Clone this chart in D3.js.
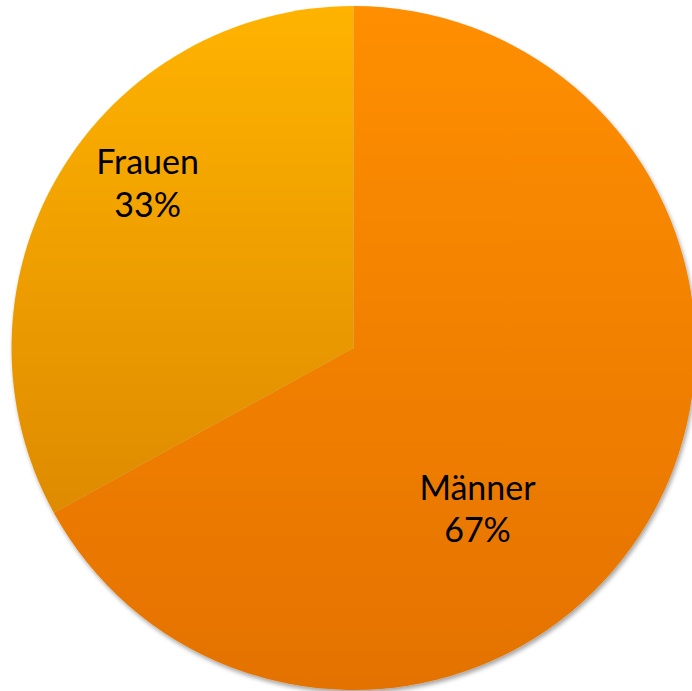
<!DOCTYPE html>
<html>
<head>
<meta charset="utf-8">
<script src="https://cdn.jsdelivr.net/npm/d3@7"></script>
<style>
  html, body { margin: 0; padding: 0; background: #ffffff; }
  svg { display: block; }
</style>
</head>
<body>
<script>
// Geschlechterverteilung
const categories = ["Männer", "Frauen"];
const values = [67, 33];
const valueLabels = ["67%", "33%"];

const width = 692, height = 691;
const cx = 353.5, cy = 348, radius = 342;

// Slice gradients (top colour, bottom colour)
const gradTop = ["#FF8F00", "#FFB300"];
const gradBottom = ["#E47200", "#DE8B00"];
// Label anchors as fractions of the radius (midpoint between the two text lines)
const labelPos = [[0.3626, 0.506], [-0.602, -0.446]];

const svg = d3.select("body").append("svg")
  .attr("width", width).attr("height", height);

const defs = svg.append("defs");
categories.forEach((c, i) => {
  const g = defs.append("linearGradient")
    .attr("id", "grad" + i)
    .attr("x1", 0).attr("y1", 0).attr("x2", 0).attr("y2", 1);
  g.append("stop").attr("offset", "0%").attr("stop-color", gradTop[i]);
  g.append("stop").attr("offset", "100%").attr("stop-color", gradBottom[i]);
});

const shadow = defs.append("filter").attr("id", "shadow")
  .attr("x", "-10%").attr("y", "-10%").attr("width", "120%").attr("height", "120%");
shadow.append("feDropShadow")
  .attr("dx", 1.5).attr("dy", 3).attr("stdDeviation", 2)
  .attr("flood-color", "#000").attr("flood-opacity", 0.35);

const pie = d3.pie().sort(null).value(d => d)(values);
const arc = d3.arc().innerRadius(0).outerRadius(radius);

const g = svg.append("g").attr("transform", `translate(${cx},${cy})`);

g.append("g").attr("filter", "url(#shadow)")
  .selectAll("path").data(pie).join("path")
  .attr("d", arc)
  .attr("fill", (d, i) => `url(#grad${i})`);

const labels = g.selectAll("text.lbl").data(pie).join("text")
  .attr("class", "lbl")
  .attr("text-anchor", "middle")
  .attr("font-family", "Lato, 'Open Sans', sans-serif")
  .attr("font-size", 34)
  .attr("fill", "#000")
  .attr("transform", (d, i) => `translate(${labelPos[i][0] * radius},${labelPos[i][1] * radius})`);

labels.append("tspan").attr("x", 0).attr("dy", "-0.63em").text((d, i) => categories[i]);
labels.append("tspan").attr("x", 0).attr("dy", "1.26em").text((d, i) => valueLabels[i]);
</script>
</body>
</html>
